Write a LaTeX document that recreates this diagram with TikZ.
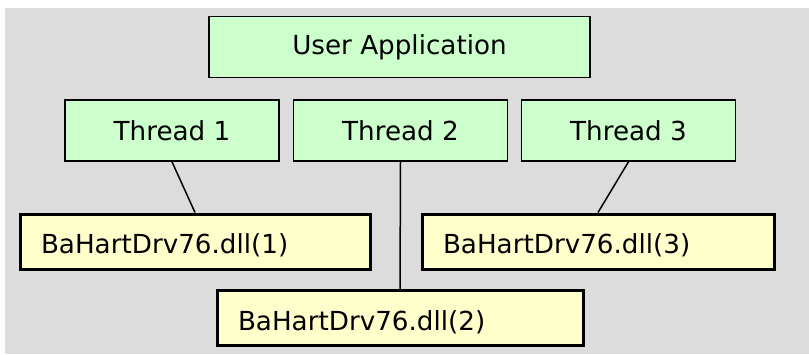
\documentclass[tikz,border=0pt]{standalone}
\usepackage{fontspec}
\setmainfont{DejaVu Sans}
\definecolor{bggray}{HTML}{DCDCDC}
\definecolor{appgreen}{HTML}{CCFFCC}
\definecolor{dllyellow}{HTML}{FFFFCC}
\begin{document}
\begin{tikzpicture}[x=0.5pt, y=-0.5pt,
        every node/.style={font=\fontsize{13.1}{16}\selectfont, inner sep=0pt},
        greenbox/.style={draw=black, line width=0.8pt, fill=appgreen, minimum height=30.5pt},
        dllbox/.style={draw=black, line width=1.5pt, fill=dllyellow, minimum height=27.5pt,
                align=left, text height=1.2em, text depth=0pt, inner xsep=10.5pt},
        link/.style={line width=0.75pt}]
                    % Parameters
                    \def\threadwidth{107pt}
                    \def\threadrow{130.5}

                    % Background
                    \useasboundingbox (0, 0) rectangle (809, 354);
                    \fill[bggray] (5, 8) rectangle (809, 354);

                    % Application on top
                    \node[greenbox, minimum width=190.5pt] (app) at (399.5, 47) {User Application};

                    % Threads
                    \foreach \i/\xpos in {1/172, 2/400.5, 3/628.5} {
                            \node[greenbox, minimum width=\threadwidth] (t\i) at (\xpos, \threadrow) {Thread \i};
                        }

                    % Driver instances
                    \foreach \i/\xpos/\ypos/\tw in {1/195/241.5/154pt, 3/598/241.5/155pt, 2/400/318/162pt} {
                            \node[dllbox, text width=\tw] (d\i) at (\xpos, \ypos) {BaHartDrv76.dll(\i)};
                        }

                    % Links from thread to driver
                    \foreach \i in {1,2,3} {
                            \draw[link] (t\i.south) -- (d\i.north);
                        }
                \end{tikzpicture}
\end{document}
